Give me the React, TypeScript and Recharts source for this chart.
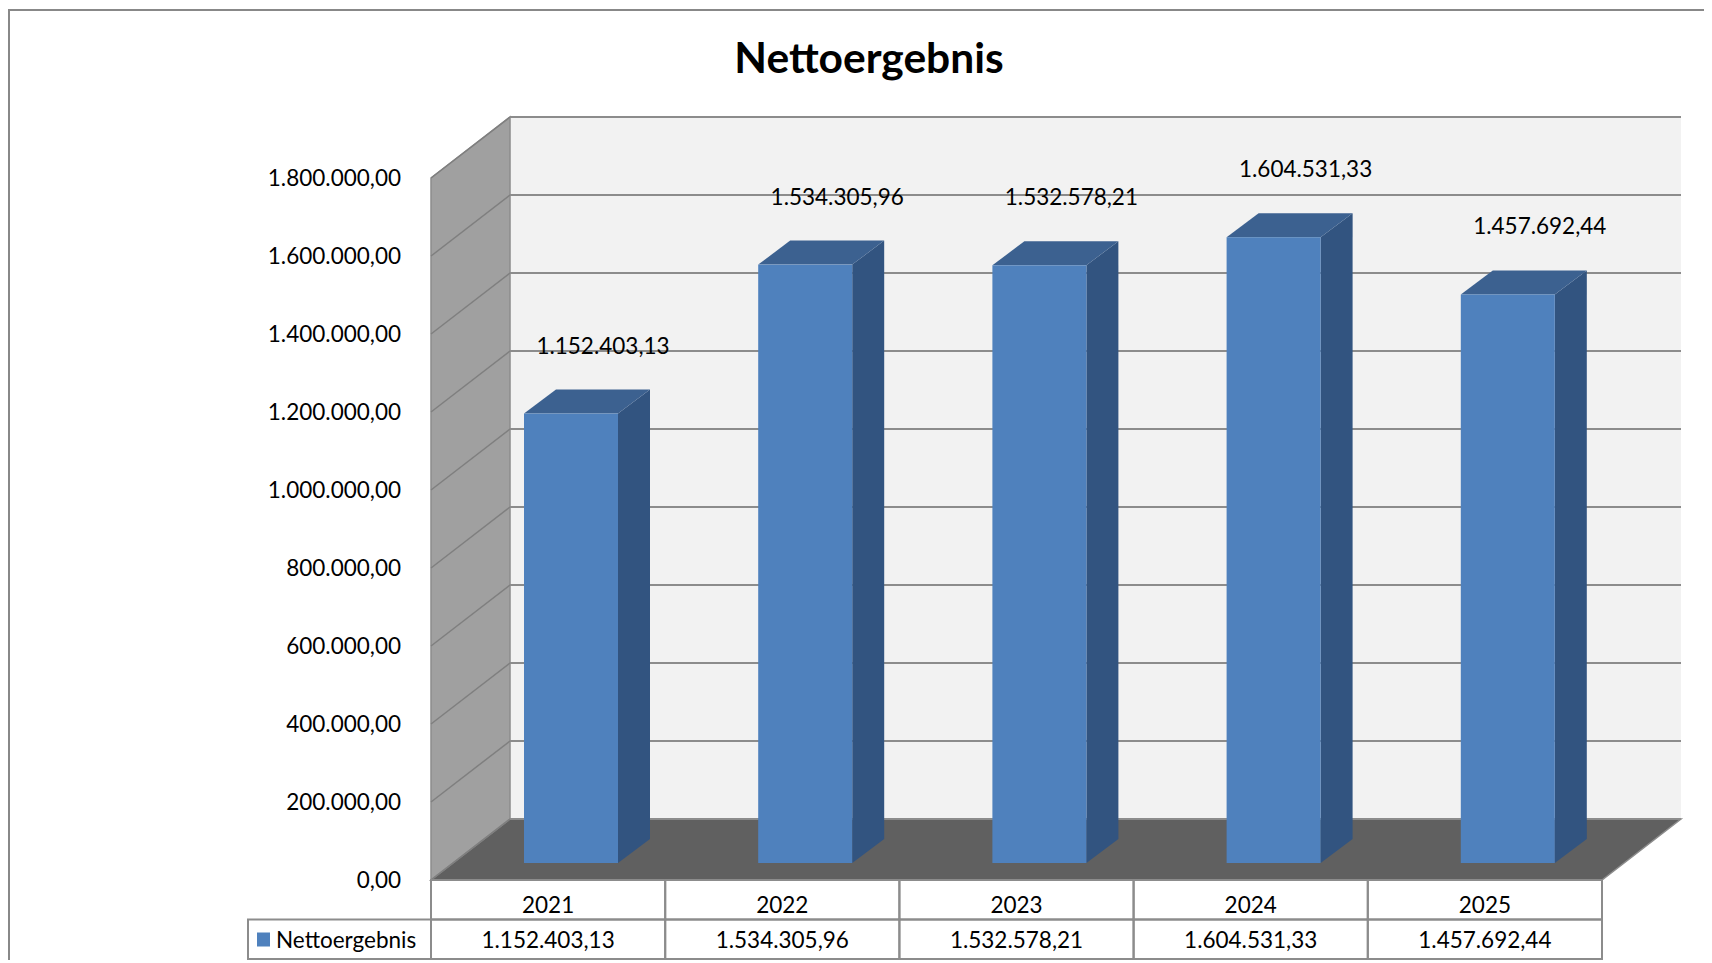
import React from "react";
import { BarChart, Bar, XAxis, YAxis, CartesianGrid, LabelList } from "recharts";

// Nettoergebnis je Jahr (Excel 3D-Säulen mit Datentabelle)
const years = ["2021", "2022", "2023", "2024", "2025"];
const nettoergebnis = [1152403.13, 1534305.96, 1532578.21, 1604531.33, 1457692.44];
const yTicks = [0, 200000, 400000, 600000, 800000, 1000000, 1200000, 1400000, 1600000, 1800000];
const seriesName = "Nettoergebnis";
const title = "Nettoergebnis";

const data = years.map((year, i) => ({ year, value: nettoergebnis[i] }));

const W = 1704;
const H = 952;
const MARGIN = { top: 170, right: 110, bottom: 0, left: 273 };
const Y_AXIS_W = 150;
const X_AXIS_H = 80;
const PLOT_LEFT = MARGIN.left + Y_AXIS_W;
const PLOT_W = W - PLOT_LEFT - MARGIN.right;
const PLOT_BOTTOM = H - MARGIN.bottom - X_AXIS_H;
const BAND = PLOT_W / years.length;

// 3D-Tiefe
const WALL_DX = 79;
const WALL_DY = 61;
const BAR_SHIFT_X = 23;
const BAR_SHIFT_Y = 17;
const BAR_DX = 32;
const BAR_DY = 24;

const FONT = "Lato, 'Open Sans', sans-serif";
const FS = 22.5;
const LINE = "#8C8C8C";

function fmtDE(v: number) {
  const [int, dec] = v.toFixed(2).split(".");
  return int.replace(/\B(?=(\d{3})+(?!\d))/g, ".") + "," + dec;
}

function walls(left: number, top: number, right: number, bottom: number) {
  const bL = left + WALL_DX;
  const bT = top - WALL_DY;
  const bR = right + WALL_DX;
  const bB = bottom - WALL_DY;
  return (
    <g>
      <rect x={bL} y={bT} width={right - left} height={bottom - top} fill="#F2F2F2" />
      <polygon
        points={`${left},${top} ${bL},${bT} ${bL},${bB} ${left},${bottom}`}
        fill="#A0A0A0"
        stroke={LINE}
        strokeWidth={1.5}
      />
      <polygon
        points={`${left},${bottom} ${bL},${bB} ${bR},${bB} ${right},${bottom}`}
        fill="#606060"
        stroke={LINE}
        strokeWidth={1.5}
      />
    </g>
  );
}

// Gitterlinien: Diagonale auf der Seitenwand + Linie auf der Rückwand
function gridLine(props: any) {
  const { x1, y1, x2, index } = props;
  const top = props.y ?? MARGIN.top;
  const height = props.height ?? PLOT_BOTTOM - MARGIN.top;
  return (
    <g key={`grid-${index}`}>
      {index === 0 && walls(x1, top, x2, top + height)}
      <line x1={x1} y1={y1} x2={x1 + WALL_DX} y2={y1 - WALL_DY} stroke="#7F7F7F" strokeWidth={1.5} />
      <line
        x1={x1 + WALL_DX}
        y1={y1 - WALL_DY}
        x2={x2 + WALL_DX}
        y2={y1 - WALL_DY}
        stroke={LINE}
        strokeWidth={2}
      />
    </g>
  );
}

function Bar3D(props: any) {
  const { x, y, width, height } = props;
  const fx = x + BAR_SHIFT_X;
  const fy = y - BAR_SHIFT_Y;
  const r = fx + width;
  return (
    <g>
      <polygon
        points={`${r},${fy} ${r + BAR_DX},${fy - BAR_DY} ${r + BAR_DX},${fy + height - BAR_DY} ${r},${fy + height}`}
        fill="#325480"
      />
      <polygon
        points={`${fx},${fy} ${fx + BAR_DX},${fy - BAR_DY} ${r + BAR_DX},${fy - BAR_DY} ${r},${fy}`}
        fill="#3C6190"
      />
      <rect x={fx} y={fy} width={width} height={height} fill="#4F81BD" />
    </g>
  );
}

function BarLabel(props: any) {
  const { x, y, width, value } = props;
  const cx = x + BAR_SHIFT_X + BAR_DX + width / 2;
  const topBack = y - BAR_SHIFT_Y - BAR_DY;
  return (
    <text x={cx} y={topBack - 36} textAnchor="middle" fontFamily={FONT} fontSize={FS} fill="#000">
      {fmtDE(value)}
    </text>
  );
}

// X-Achse als Datentabelle
function TableTick(props: any) {
  const { x, payload, index } = props;
  const left = x - BAND / 2;
  const top = PLOT_BOTTOM;
  const rowH = 39.5;
  return (
    <g>
      {index === 0 && (
        <g>
          <rect x={240} y={top + rowH} width={left - 240} height={rowH} fill="#fff" stroke={LINE} strokeWidth={2} />
          <rect x={249} y={top + rowH + 13} width={13} height={14} fill="#4F81BD" />
          <text x={268} y={top + rowH + 28} fontFamily={FONT} fontSize={FS} fill="#000">
            {seriesName}
          </text>
        </g>
      )}
      <rect x={left} y={top} width={BAND} height={rowH} fill="none" stroke={LINE} strokeWidth={2} />
      <rect x={left} y={top + rowH} width={BAND} height={rowH} fill="none" stroke={LINE} strokeWidth={2} />
      <text x={x} y={top + 33} textAnchor="middle" fontFamily={FONT} fontSize={FS} fill="#000">
        {payload.value}
      </text>
      <text x={x} y={top + rowH + 28} textAnchor="middle" fontFamily={FONT} fontSize={FS} fill="#000">
        {fmtDE(nettoergebnis[index])}
      </text>
    </g>
  );
}

export default function App() {
  return (
    <div style={{ position: "relative", width: W, height: H, overflow: "hidden", background: "#fff" }}>
      <div
        style={{
          position: "absolute",
          left: 0,
          top: 1,
          width: W + 20,
          height: H + 20,
          borderLeft: "2px solid #888",
          borderTop: "2px solid #888",
        }}
      />
      <div
        style={{
          position: "absolute",
          left: 861,
          top: 28,
          transform: "translateX(-50%)",
          fontFamily: FONT,
          fontWeight: 700,
          fontSize: 42.5,
          lineHeight: "42px",
          whiteSpace: "nowrap",
          color: "#000",
        }}
      >
        {title}
      </div>
      <div style={{ position: "absolute", left: 0, top: 0 }}>
        <BarChart width={W} height={H} data={data} margin={MARGIN}>
          <CartesianGrid vertical={false} horizontal={gridLine} fill="none" />
          <XAxis
            dataKey="year"
            height={X_AXIS_H}
            axisLine={false}
            tickLine={false}
            interval={0}
            tick={<TableTick />}
          />
          <YAxis
            domain={[0, 1800000]}
            ticks={yTicks}
            interval={0}
            width={Y_AXIS_W}
            axisLine={false}
            tickLine={false}
            tickSize={0}
            tickMargin={30}
            tickFormatter={fmtDE}
            tick={{ fill: "#000", fontSize: FS, fontFamily: FONT }}
          />
          <Bar dataKey="value" name={seriesName} barSize={94} shape={<Bar3D />} isAnimationActive={false}>
            <LabelList dataKey="value" content={<BarLabel />} />
          </Bar>
        </BarChart>
      </div>
    </div>
  );
}
